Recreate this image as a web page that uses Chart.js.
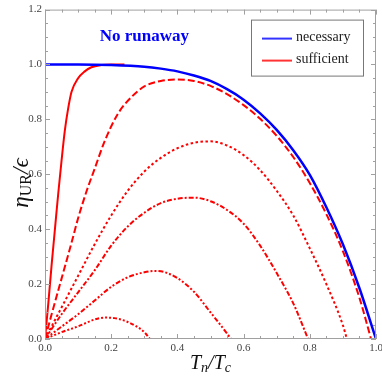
<!DOCTYPE html>
<html>
<head>
<meta charset="utf-8">
<script src="https://cdn.jsdelivr.net/npm/chart.js@4"></script>
<style>
  html, body { margin: 0; padding: 0; background: #fff; }
  #wrap { width: 382px; height: 382px; }
</style>
</head>
<body>
<div id="wrap"><canvas id="myChart" width="382" height="382"></canvas></div>
<script>
// values
const necessaryX = [0, 0.1, 0.2, 0.3, 0.35, 0.4, 0.45, 0.5, 0.55, 0.6, 0.65, 0.7, 0.75, 0.8, 0.85, 0.9, 0.95, 1.0];
const necessaryY = [1.0, 1.0, 0.998, 0.992, 0.985, 0.975, 0.96, 0.94, 0.91, 0.872, 0.822, 0.762, 0.688, 0.598, 0.48, 0.345, 0.185, 0.0];

const solidX = [0, 0.01, 0.02, 0.03, 0.04, 0.05, 0.06, 0.07, 0.08, 0.1, 0.12, 0.14, 0.17, 0.2, 0.24];
const solidY = [0, 0.13, 0.27, 0.40, 0.53, 0.65, 0.76, 0.84, 0.9, 0.95, 0.975, 0.99, 0.998, 1.0, 1.0];

const dashedX = [0, 0.02, 0.05, 0.08, 0.1, 0.126, 0.15, 0.18, 0.22, 0.26, 0.3, 0.35, 0.4, 0.45, 0.5, 0.55, 0.6, 0.65, 0.7, 0.75, 0.8, 0.85, 0.9, 0.95, 0.985];
const dashedY = [0, 0.09, 0.22, 0.35, 0.44, 0.54, 0.62, 0.72, 0.82, 0.88, 0.92, 0.94, 0.945, 0.94, 0.922, 0.892, 0.852, 0.802, 0.74, 0.663, 0.568, 0.455, 0.32, 0.15, 0.0];

const dottedX = [0, 0.05, 0.1, 0.15, 0.2, 0.25, 0.3, 0.35, 0.4, 0.45, 0.5, 0.55, 0.6, 0.65, 0.7, 0.75, 0.8, 0.85, 0.9, 0.912];
const dottedY = [0, 0.115, 0.23, 0.345, 0.45, 0.54, 0.61, 0.66, 0.695, 0.715, 0.72, 0.705, 0.67, 0.615, 0.54, 0.45, 0.33, 0.2, 0.05, 0];

const dashDotX = [0, 0.05, 0.1, 0.15, 0.2, 0.25, 0.3, 0.35, 0.4, 0.45, 0.5, 0.55, 0.6, 0.65, 0.7, 0.75, 0.795];
const dashDotY = [0, 0.09, 0.17, 0.25, 0.34, 0.41, 0.46, 0.495, 0.511, 0.515, 0.502, 0.47, 0.42, 0.34, 0.24, 0.13, 0];

const smallX = [0, 0.05, 0.1, 0.15, 0.2, 0.25, 0.3, 0.33, 0.36, 0.4, 0.45, 0.5, 0.55, 0.562];
const smallY = [0, 0.045, 0.09, 0.14, 0.19, 0.225, 0.243, 0.248, 0.244, 0.222, 0.172, 0.097, 0.02, 0];

const tinyX = [0, 0.05, 0.1, 0.15, 0.18, 0.21, 0.25, 0.3, 0.317];
const tinyY = [0, 0.025, 0.046, 0.071, 0.078, 0.076, 0.062, 0.025, 0];

const xTicks = [0, 0.2, 0.4, 0.6, 0.8, 1.0];
const yTicks = [0, 0.2, 0.4, 0.6, 0.8, 1.0, 1.2];

const BLUE = "#0000ff";
const RED = "#ff0000";
const SERIF = "'Liberation Serif', 'DejaVu Serif', serif";

function pts(xs, ys) {
  return xs.map((x, i) => ({ x: x, y: ys[i] }));
}

function curve(xs, ys, color, dash, width) {
  return {
    data: pts(xs, ys),
    borderColor: color,
    borderWidth: width || 2,
    borderDash: dash || [],
    pointRadius: 0,
    fill: false,
    cubicInterpolationMode: "monotone",
  };
}

// frame with inward ticks on all four sides
const framePlugin = {
  id: "frame",
  afterDraw(chart) {
    const { ctx, chartArea: a, scales } = chart;
    ctx.save();
    ctx.strokeStyle = "#a0a0a0";
    ctx.lineWidth = 1;
    ctx.strokeRect(a.left + 0.5, a.top + 0.5, a.right - a.left - 1, a.bottom - a.top - 1);
    ctx.beginPath();
    for (let i = 0; i <= 20; i++) {
      const v = i * 0.05;
      const px = Math.round(scales.x.getPixelForValue(v)) + 0.5;
      const len = i % 4 === 0 ? 5 : 3;
      ctx.moveTo(px, a.bottom); ctx.lineTo(px, a.bottom - len);
      ctx.moveTo(px, a.top); ctx.lineTo(px, a.top + len);
    }
    for (let i = 0; i <= 24; i++) {
      const v = i * 0.05;
      const py = Math.round(scales.y.getPixelForValue(v)) + 0.5;
      const len = i % 4 === 0 ? 5 : 3;
      ctx.moveTo(a.left, py); ctx.lineTo(a.left + len, py);
      ctx.moveTo(a.right, py); ctx.lineTo(a.right - len, py);
    }
    ctx.stroke();
    ctx.restore();
  },
};

// legend box, "No runaway" note and the two axis titles
const labelsPlugin = {
  id: "labels",
  afterDraw(chart) {
    const { ctx, chartArea: a, scales } = chart;
    ctx.save();

    // legend
    const lx = a.right - 125, ly = a.top + 10, lw = 112, lh = 56;
    ctx.strokeStyle = "#777";
    ctx.lineWidth = 1;
    ctx.strokeRect(lx + 0.5, ly + 0.5, lw, lh);
    const rows = [["necessary", BLUE], ["sufficient", RED]];
    rows.forEach((r, i) => {
      const y = ly + 19 + i * 22;
      ctx.strokeStyle = r[1];
      ctx.globalAlpha = 0.8;
      ctx.lineWidth = 2;
      ctx.beginPath();
      ctx.moveTo(lx + 11, y);
      ctx.lineTo(lx + 41, y);
      ctx.stroke();
      ctx.globalAlpha = 1;
      ctx.fillStyle = "#222";
      ctx.font = "14px " + SERIF;
      ctx.textBaseline = "middle";
      ctx.textAlign = "left";
      ctx.fillText(r[0], lx + 45, y - 1);
    });

    // note
    ctx.fillStyle = BLUE;
    ctx.font = "bold 17px " + SERIF;
    ctx.textAlign = "center";
    ctx.textBaseline = "middle";
    ctx.fillText("No runaway", scales.x.getPixelForValue(0.3), scales.y.getPixelForValue(1.1));

    // x title: T_n / T_c
    const big = "italic 20px " + SERIF;
    const sub = "italic 14px " + SERIF;
    const xParts = [["T", big, 0], ["n", sub, 4], ["/", big, 0], ["T", big, 0], ["c", sub, 4]];
    drawParts(ctx, xParts, (a.left + a.right) / 2, 364, 0);

    // y title: eta_UR / epsilon
    const yParts = [["η", "italic 23px " + SERIF, 0], ["UR", "16px " + SERIF, 5], ["/", "italic 23px " + SERIF, 0], ["ϵ", "italic 23px " + SERIF, 0]];
    drawParts(ctx, yParts, 22, 183, -Math.PI / 2);

    ctx.restore();
  },
};

function drawParts(ctx, parts, cx, cy, rot) {
  let total = 0;
  parts.forEach((p) => { ctx.font = p[1]; total += ctx.measureText(p[0]).width; });
  ctx.save();
  ctx.translate(cx, cy);
  ctx.rotate(rot);
  ctx.fillStyle = "#111";
  ctx.textAlign = "left";
  ctx.textBaseline = "middle";
  let x = -total / 2;
  parts.forEach((p) => {
    ctx.font = p[1];
    ctx.fillText(p[0], x, p[2]);
    x += ctx.measureText(p[0]).width;
  });
  ctx.restore();
}

const ctx = document.getElementById("myChart");

new Chart(ctx, {
  type: "line",
  data: {
    datasets: [
      curve(necessaryX, necessaryY, BLUE, [], 2.5),
      curve(solidX, solidY, RED, []),
      curve(dashedX, dashedY, RED, [7, 3]),
      curve(dottedX, dottedY, RED, [2.5, 2.5]),
      curve(dashDotX, dashDotY, RED, [5, 2, 2, 2]),
      curve(smallX, smallY, RED, [5, 2, 2, 2, 2, 2]),
      curve(tinyX, tinyY, RED, [4, 2, 2, 2, 2, 2, 2, 2]),
    ],
  },
  options: {
    responsive: false,
    animation: false,
    layout: { padding: { top: 9, right: 6, left: 0, bottom: 0 } },
    plugins: {
      legend: { display: false },
      tooltip: { enabled: false },
    },
    scales: {
      x: {
        type: "linear",
        min: 0,
        max: 1,
        afterBuildTicks: (s) => { s.ticks = xTicks.map((v) => ({ value: v })); },
        afterFit: (s) => { s.height = 43; s.paddingLeft = 0; s.paddingRight = 0; },
        grid: { display: false, drawTicks: false },
        border: { display: false },
        ticks: {
          padding: 3,
          color: "#444",
          font: { family: SERIF, size: 11 },
          maxRotation: 0,
          callback: (v) => Number(v).toFixed(1),
        },
      },
      y: {
        type: "linear",
        min: 0,
        max: 1.2,
        afterBuildTicks: (s) => { s.ticks = yTicks.map((v) => ({ value: v })); },
        afterFit: (s) => { s.width = 45; },
        grid: { display: false, drawTicks: false },
        border: { display: false },
        ticks: {
          padding: 3,
          color: "#444",
          font: { family: SERIF, size: 11 },
          callback: (v) => Number(v).toFixed(1),
        },
      },
    },
  },
  plugins: [framePlugin, labelsPlugin],
});
</script>
</body>
</html>
